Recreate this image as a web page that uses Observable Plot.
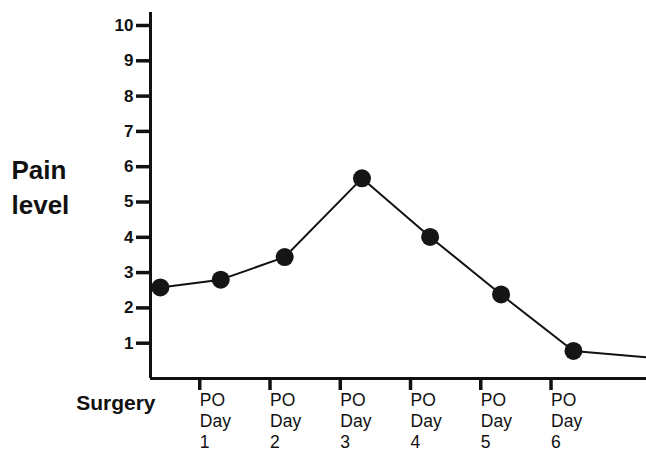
<!DOCTYPE html>
<html>
<head>
<meta charset="utf-8">
<script src="https://cdn.jsdelivr.net/npm/d3@7"></script>
<script src="https://cdn.jsdelivr.net/npm/@observablehq/plot@0.6"></script>
<style>
  html, body { margin: 0; padding: 0; background: #fff; }
  #chart svg { display: block; }
</style>
</head>
<body>
<div id="chart"></div>
<script>
// Data
const stageLabels = ["Surgery", "PO Day 1", "PO Day 2", "PO Day 3", "PO Day 4", "PO Day 5", "PO Day 6"];
const stageDays = [0.14, 1, 1.91, 3.01, 3.98, 4.99, 6.02];
const painLevels = [2.58, 2.80, 3.44, 5.67, 4.01, 2.38, 0.78];
// line continues past Day 6 to the right edge
const trailDay = 7.06;
const trailPain = 0.6;
const yTicks = [1, 2, 3, 4, 5, 6, 7, 8, 9, 10];
const xTicks = [1, 2, 3, 4, 5, 6];
const yTitle = "Pain\nlevel";
const surgeryLabel = "Surgery";

const points = stageDays.map((d, i) => ({day: d, pain: painLevels[i], label: stageLabels[i]}));
const linePts = points.concat([{day: trailDay, pain: trailPain}]);

const font = "Liberation Sans, Arial, Helvetica, sans-serif";

const chart = Plot.plot({
  width: 646,
  height: 451,
  marginLeft: 150,
  marginRight: 0,
  marginTop: 25,
  marginBottom: 73,
  style: {fontFamily: font, color: "#111", background: "#fff"},
  x: {domain: [0, trailDay]},
  y: {domain: [0, 10]},
  marks: [
    Plot.axisY({ticks: yTicks, tickSize: 14, tickPadding: 3, strokeWidth: 3.5, fontSize: 17, fontWeight: "bold", label: null, tickFormat: d => String(d)}),
    Plot.axisX({ticks: xTicks, tickSize: 12, tickPadding: 0, strokeWidth: 3.5, fontSize: 17.5, textAnchor: "start", dx: -21, lineHeight: 1.22, label: null, tickFormat: d => `PO\nDay\n${d}`}),
    Plot.ruleX([0], {y1: 0, y2: 10.37, strokeWidth: 3, stroke: "#111"}),
    Plot.ruleY([0], {x1: 0, x2: trailDay, strokeWidth: 3, stroke: "#111"}),
    Plot.line(linePts, {x: "day", y: "pain", stroke: "#111", strokeWidth: 2}),
    Plot.dot(points, {x: "day", y: "pain", r: 9, fill: "#151515", stroke: "none"}),
    Plot.text([surgeryLabel], {x: 0, y: 0, text: d => d, textAnchor: "end", dx: 5, dy: 25, fontSize: 21, fontWeight: "bold", fill: "#111"}),
    Plot.text([yTitle], {frameAnchor: "left", text: d => d, textAnchor: "start", dx: -139, dy: -17, fontSize: 26, fontWeight: "bold", lineHeight: 1.35, fill: "#111"})
  ]
});
// thicken the axis tick strokes like the reference
chart.querySelectorAll('g[aria-label="y-axis tick"], g[aria-label="x-axis tick"]').forEach(g => {
  g.setAttribute("stroke-width", "3.5");
  g.setAttribute("stroke", "#111");
});
document.getElementById("chart").appendChild(chart);
</script>
</body>
</html>
